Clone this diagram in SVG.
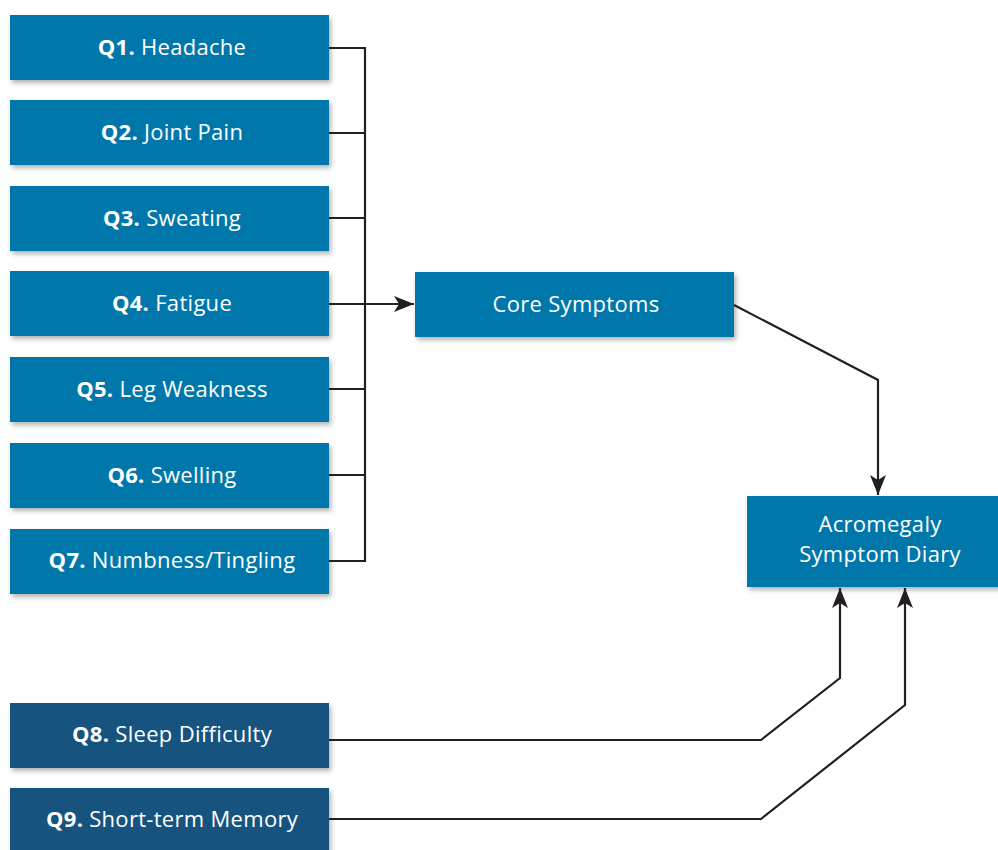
<svg xmlns="http://www.w3.org/2000/svg" width="998" height="850" viewBox="0 0 998 850">
<defs>
<filter id="sh" x="-5%" y="-10%" width="115%" height="130%">
<feDropShadow dx="2" dy="3" stdDeviation="2.5" flood-color="#000" flood-opacity="0.3"/>
</filter>
<marker id="ah" viewBox="0 0 20 16" refX="20" refY="8" markerWidth="20" markerHeight="16" markerUnits="userSpaceOnUse" orient="auto">
<path d="M0,0 L20,8 L0,16 L5,8 Z" fill="#231f20"/>
</marker>
<style>
.b{fill:#0077ab;filter:url(#sh)}
.d{fill:#14527f;filter:url(#sh)}
text{font-family:"Open Sans","Liberation Sans",sans-serif;font-size:22px;letter-spacing:0.3px;fill:#fff;text-anchor:middle}
.q{font-weight:bold}
.c{fill:none;stroke:#231f20;stroke-width:2.2}
</style>
</defs>
<g id="q1"><rect class="b" x="10" y="15" width="319" height="65"/><text x="172" y="55"><tspan class="q">Q1.</tspan> Headache</text></g>
<g id="q2"><rect class="b" x="10" y="100" width="319" height="65"/><text x="172" y="140"><tspan class="q">Q2.</tspan> Joint Pain</text></g>
<g id="q3"><rect class="b" x="10" y="186" width="319" height="65"/><text x="172" y="226"><tspan class="q">Q3.</tspan> Sweating</text></g>
<g id="q4"><rect class="b" x="10" y="271" width="319" height="65"/><text x="172" y="311"><tspan class="q">Q4.</tspan> Fatigue</text></g>
<g id="q5"><rect class="b" x="10" y="357" width="319" height="65"/><text x="172" y="397"><tspan class="q">Q5.</tspan> Leg Weakness</text></g>
<g id="q6"><rect class="b" x="10" y="443" width="319" height="65"/><text x="172" y="483"><tspan class="q">Q6.</tspan> Swelling</text></g>
<g id="q7"><rect class="b" x="10" y="529" width="319" height="65"/><text x="172" y="568"><tspan class="q">Q7.</tspan> Numbness/Tingling</text></g>
<g id="q8"><rect class="d" x="10" y="703" width="319" height="65"/><text x="172" y="742"><tspan class="q">Q8.</tspan> Sleep Difficulty</text></g>
<g id="q9"><rect class="d" x="10" y="788" width="319" height="65"/><text x="172" y="827"><tspan class="q">Q9.</tspan> Short-term Memory</text></g>
<g id="core"><rect class="b" x="415" y="272" width="319" height="65"/><text x="576" y="312">Core Symptoms</text></g>
<g id="diary"><rect class="b" x="747" y="496" width="255" height="91"/><text x="880" y="532">Acromegaly</text><text x="880" y="562">Symptom Diary</text></g>
<g id="connectors">
<path class="c" d="M329,48 H365 M329,133 H365 M329,218 H365 M329,389 H365 M329,475 H365 M329,561 H365 M365,47 V562"/>
<path class="c" d="M329,304 H414" marker-end="url(#ah)"/>
<path class="c" d="M734,305 L878,380 V495" marker-end="url(#ah)"/>
<path class="c" d="M329,740 H761 L840,678 V588" marker-end="url(#ah)"/>
<path class="c" d="M329,819 H761 L905,705 V588" marker-end="url(#ah)"/>
</g>
</svg>
